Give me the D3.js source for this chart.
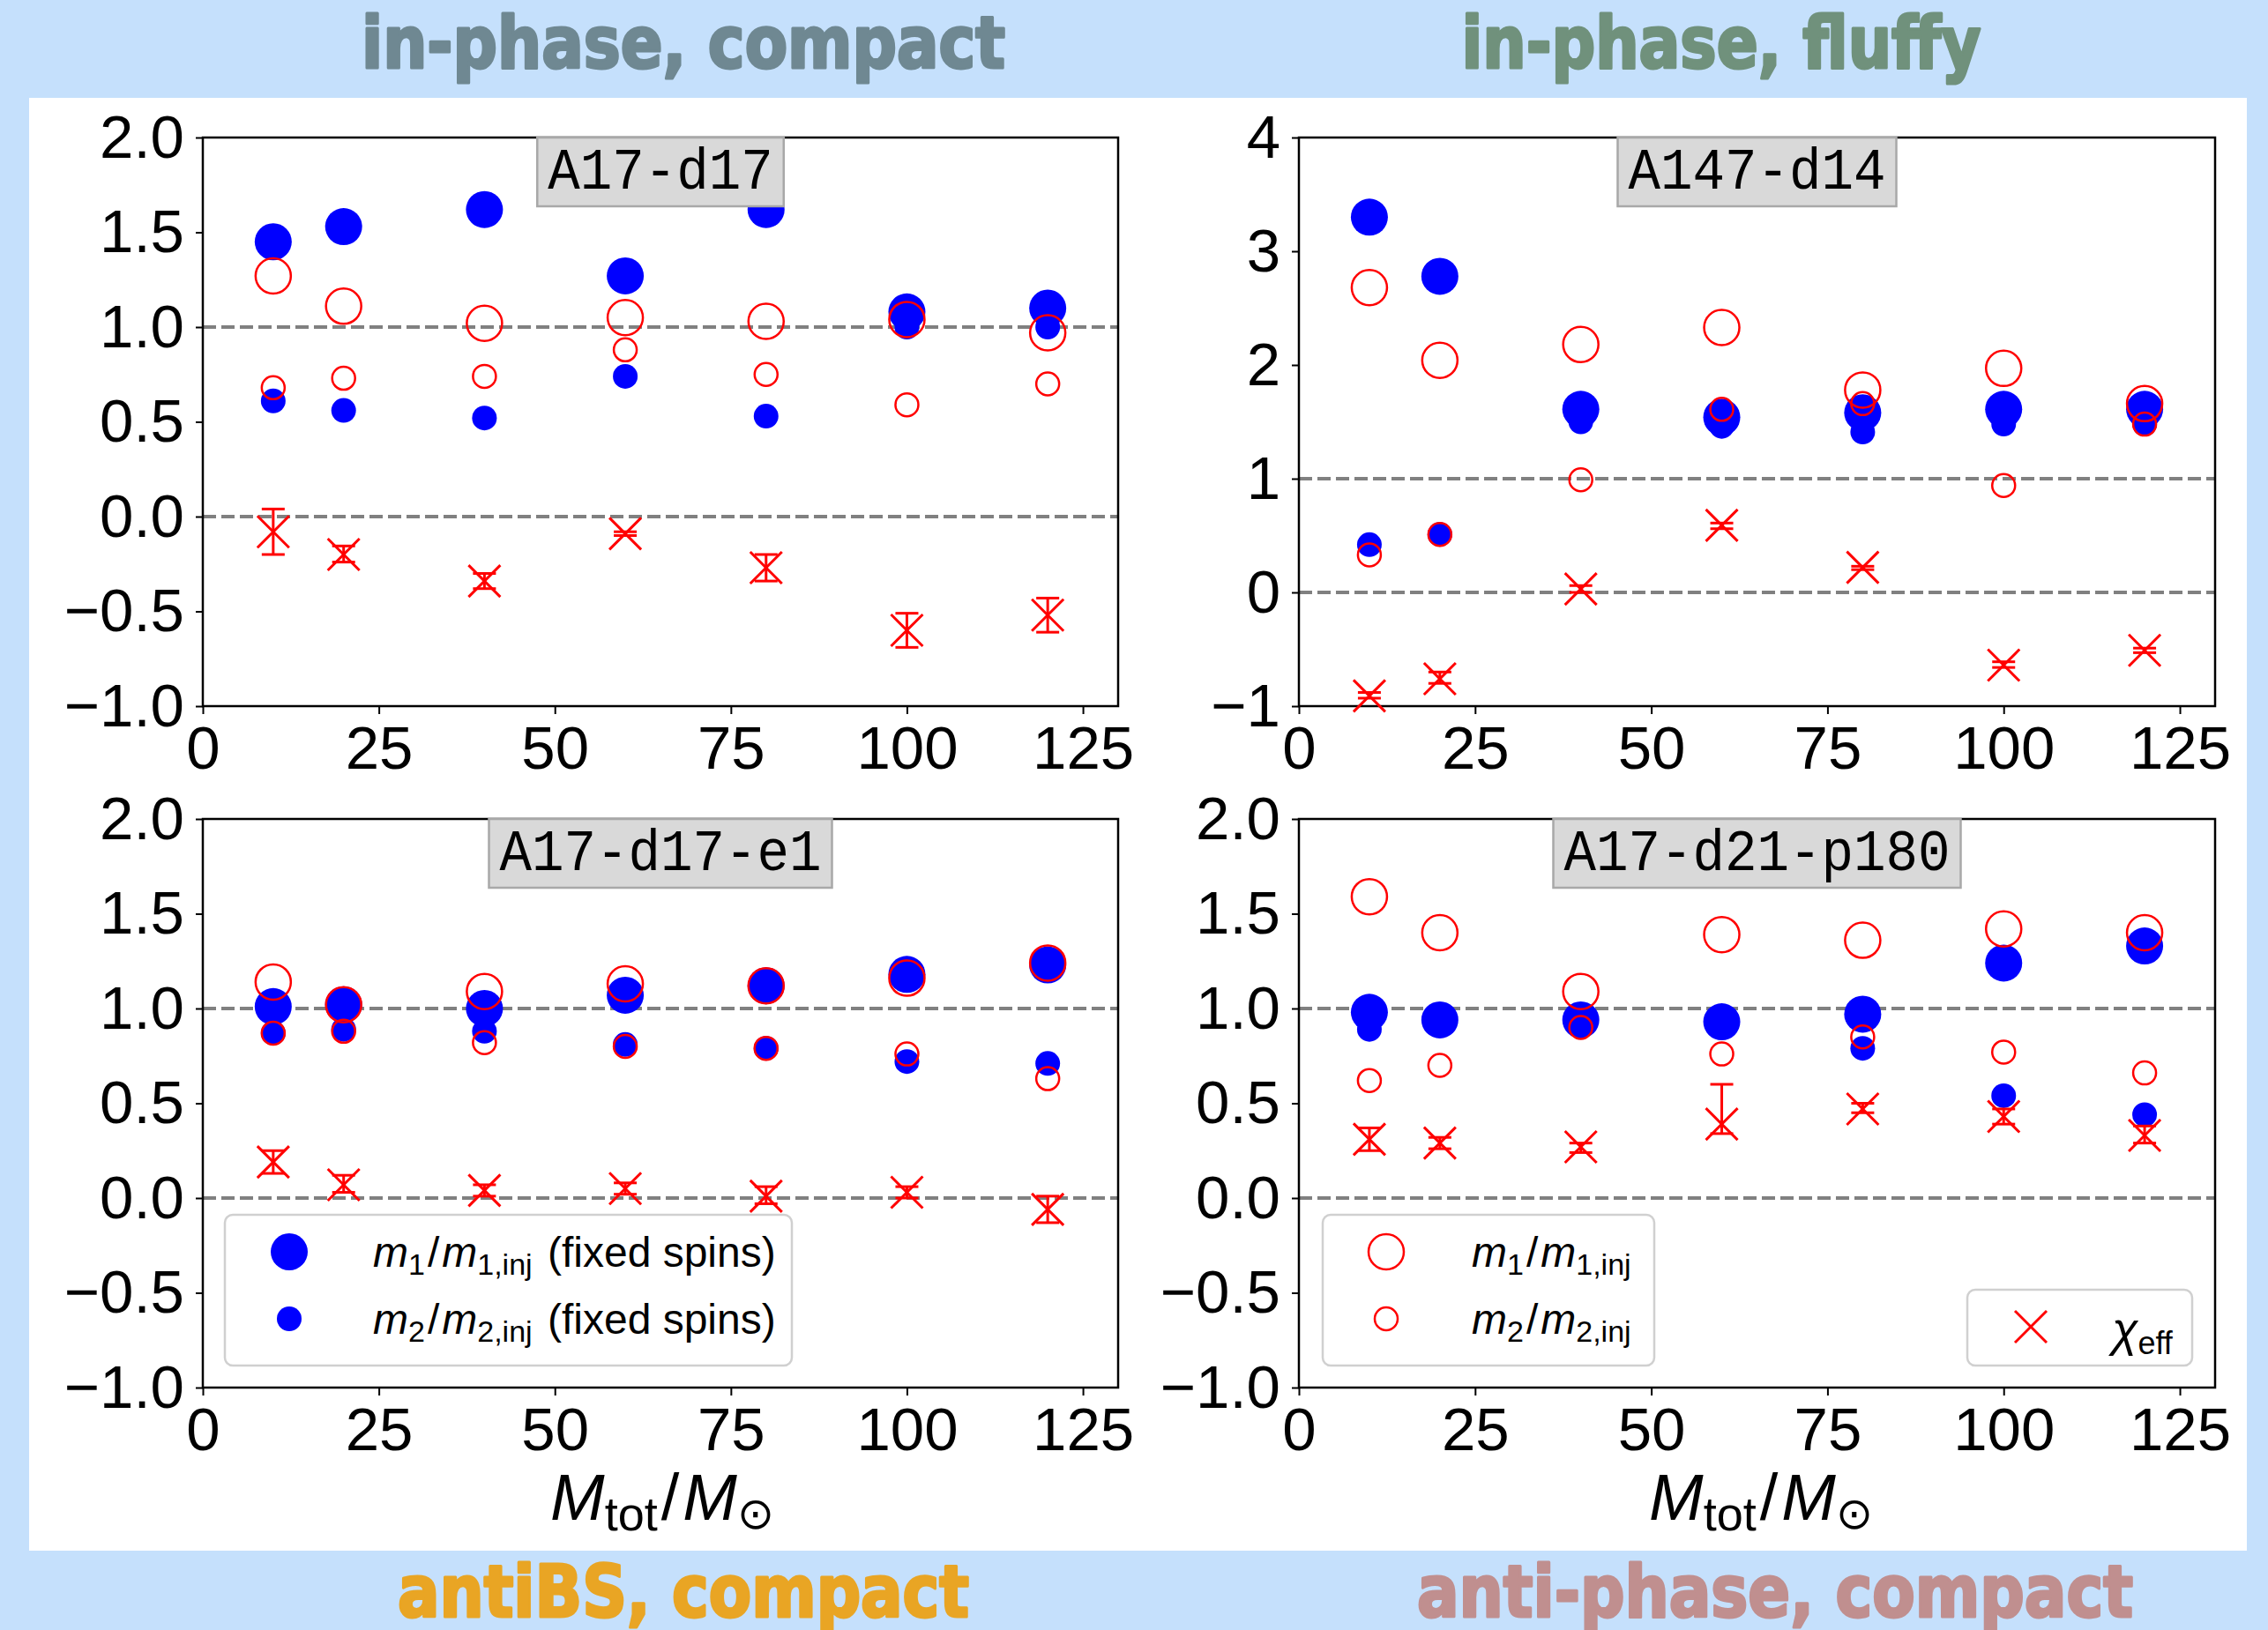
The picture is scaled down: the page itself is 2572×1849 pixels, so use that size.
<!DOCTYPE html>
<html><head><meta charset="utf-8">
<script src="https://cdn.jsdelivr.net/npm/d3@7"></script>
<style>html,body{margin:0;padding:0;background:#c5e0fc;} svg{display:block}</style>
</head><body><svg id="c" width="2572" height="1849"></svg>
<script>
// ---------------- data ----------------
const masses = [10, 20, 40, 60, 80, 100, 120];
const xTicks = [0, 25, 50, 75, 100, 125];
const yTicksHalf = [-1, -0.5, 0, 0.5, 1, 1.5, 2];
const yTicksInt = [-1, 0, 1, 2, 3, 4];
const cornerTitles = ["in-phase, compact", "in-phase, fluffy", "antiBS, compact", "anti-phase, compact"];
const panelNames = ["A17-d17", "A147-d14", "A17-d17-e1", "A17-d21-p180"];

// A17-d17
const a_m1Fixed = [1.45, 1.53, 1.62, 1.27, 1.62, 1.08, 1.10];
const a_m2Fixed = [0.61, 0.56, 0.52, 0.74, 0.53, 1.00, 1.00];
const a_m1 = [1.27, 1.11, 1.02, 1.05, 1.03, 1.04, 0.97];
const a_m2 = [0.68, 0.73, 0.74, 0.88, 0.75, 0.59, 0.70];
const a_chi = [-0.08, -0.20, -0.34, -0.09, -0.27, -0.60, -0.52];
const a_chiLo = [-0.20, -0.24, -0.38, -0.10, -0.34, -0.69, -0.61];
const a_chiHi = [0.04, -0.155, -0.30, -0.08, -0.20, -0.51, -0.43];

// A147-d14
const b_m1Fixed = [3.30, 2.78, 1.61, 1.54, 1.58, 1.61, 1.61];
const b_m2Fixed = [0.42, 0.51, 1.50, 1.46, 1.41, 1.48, 1.48];
const b_m1 = [2.68, 2.04, 2.18, 2.33, 1.78, 1.97, 1.66];
const b_m2 = [0.33, 0.51, 0.99, 1.61, 1.66, 0.94, 1.48];
const b_chi = [-0.91, -0.76, 0.03, 0.59, 0.22, -0.64, -0.51];
const b_chiLo = [-0.93, -0.80, 0.00, 0.56, 0.20, -0.66, -0.53];
const b_chiHi = [-0.88, -0.70, 0.06, 0.61, 0.23, -0.61, -0.49];

// A17-d17-e1
const c_m1Fixed = [1.01, 1.02, 1.00, 1.07, 1.12, 1.18, 1.23];
const c_m2Fixed = [0.87, 0.89, 0.88, 0.81, 0.79, 0.72, 0.71];
const c_m1 = [1.14, 1.02, 1.09, 1.13, 1.12, 1.16, 1.24];
const c_m2 = [0.87, 0.88, 0.82, 0.80, 0.79, 0.76, 0.63];
const c_chi = [0.19, 0.07, 0.04, 0.05, 0.01, 0.03, -0.06];
const c_chiLo = [0.13, 0.03, 0.01, 0.02, -0.03, 0.00, -0.13];
const c_chiHi = [0.25, 0.12, 0.07, 0.08, 0.06, 0.06, 0.01];

// A17-d21-p180
const d_m1Fixed = [0.98, 0.94, 0.94, 0.93, 0.97, 1.24, 1.33];
const d_m2Fixed = [0.89, 0.93, 0.91, 0.92, 0.79, 0.54, 0.44];
const d_m1 = [1.59, 1.40, 1.09, 1.39, 1.36, 1.42, 1.40];
const d_m2 = [0.62, 0.70, 0.90, 0.76, 0.85, 0.77, 0.66];
const d_chi = [0.31, 0.29, 0.27, 0.39, 0.47, 0.43, 0.33];
const d_chiLo = [0.25, 0.26, 0.24, 0.34, 0.45, 0.39, 0.29];
const d_chiHi = [0.37, 0.32, 0.29, 0.60, 0.50, 0.47, 0.38];

// ---------------- layout ----------------
const svg = d3.select('#c');
const BLUE = '#0000ff', RED = '#ff0000';
const TICKFONT = '"Liberation Sans", Arial, sans-serif';

svg.append('rect').attr('x', 0).attr('y', 0).attr('width', 2572).attr('height', 1849).attr('fill', '#c5e0fc');
svg.append('rect').attr('x', 33).attr('y', 111).attr('width', 2515).attr('height', 1648).attr('fill', '#ffffff');

const titleSpecs = [
  {t: cornerTitles[0], cx: 775, y: 77, w: 730, color: '#6f8892'},
  {t: cornerTitles[1], cx: 1952, y: 77, w: 589, color: '#70917c'},
  {t: cornerTitles[2], cx: 775, y: 1834, w: 648, color: '#e9a524'},
  {t: cornerTitles[3], cx: 2013, y: 1834, w: 812, color: '#c08f8f'}
];
svg.selectAll('text.ctitle').data(titleSpecs).join('text')
  .attr('class', 'ctitle')
  .attr('x', d => d.cx).attr('y', d => d.y)
  .attr('text-anchor', 'middle')
  .attr('textLength', d => d.w).attr('lengthAdjust', 'spacingAndGlyphs')
  .style('font-family', '"Liberation Sans Narrow", "DejaVu Sans Condensed", "Liberation Sans", sans-serif')
  .style('font-weight', 'bold').style('font-size', '82px')
  .attr('fill', d => d.color).attr('stroke', d => d.color).attr('stroke-width', 3)
  .attr('stroke-linejoin', 'round')
  .text(d => d.t);

function panel(p) {
  const x = d3.scaleLinear().domain([0, 130]).range([p.left, p.right]);
  const y = d3.scaleLinear().domain(p.yDomain).range([p.bottom, p.top]);
  const g = svg.append('g');

  // reference dashed lines
  g.selectAll('line.ref').data([0, 1]).join('line')
    .attr('x1', x(0)).attr('x2', x(130))
    .attr('y1', d => y(d)).attr('y2', d => y(d))
    .attr('stroke', '#808080').attr('stroke-width', 4).attr('stroke-dasharray', '15,6');

  // axes
  const xa = g.append('g').attr('transform', `translate(0,${p.bottom})`)
    .call(d3.axisBottom(x).tickValues(xTicks).tickSize(9).tickPadding(13).tickSizeOuter(0).tickFormat(d3.format('d')));
  const ya = g.append('g').attr('transform', `translate(${p.left},0)`)
    .call(d3.axisLeft(y).tickValues(p.yTicks).tickSize(8).tickPadding(13).tickSizeOuter(0).tickFormat(d3.format(p.fmt)));
  [xa, ya].forEach(a => {
    a.select('.domain').remove();
    a.selectAll('.tick line').attr('stroke', '#000').attr('stroke-width', 2);
    a.selectAll('.tick text').attr('fill', '#000')
      .style('font-family', TICKFONT).style('font-size', '69px');
  });

  // frame
  g.append('rect').attr('x', p.left).attr('y', p.top)
    .attr('width', p.right - p.left).attr('height', p.bottom - p.top)
    .attr('fill', 'none').attr('stroke', '#000').attr('stroke-width', 2.5);

  const pts = (arr) => masses.map((m, i) => ({m, v: arr[i]}));
  g.selectAll('circle.bb').data(pts(p.m1Fixed)).join('circle')
    .attr('cx', d => x(d.m)).attr('cy', d => y(d.v)).attr('r', 21).attr('fill', BLUE);
  g.selectAll('circle.bs').data(pts(p.m2Fixed)).join('circle')
    .attr('cx', d => x(d.m)).attr('cy', d => y(d.v)).attr('r', 14).attr('fill', BLUE);
  g.selectAll('circle.rb').data(pts(p.m1)).join('circle')
    .attr('cx', d => x(d.m)).attr('cy', d => y(d.v)).attr('r', 20)
    .attr('fill', 'none').attr('stroke', RED).attr('stroke-width', 2.5);
  g.selectAll('circle.rs').data(pts(p.m2)).join('circle')
    .attr('cx', d => x(d.m)).attr('cy', d => y(d.v)).attr('r', 13)
    .attr('fill', 'none').attr('stroke', RED).attr('stroke-width', 2.5);

  const chi = masses.map((m, i) => ({m, v: p.chi[i], lo: p.chiLo[i], hi: p.chiHi[i]}));
  const cg = g.selectAll('g.chi').data(chi).join('g')
    .attr('stroke', RED).attr('stroke-width', 3).attr('fill', 'none');
  cg.append('line').attr('x1', d => x(d.m)).attr('x2', d => x(d.m))
    .attr('y1', d => y(d.lo)).attr('y2', d => y(d.hi));
  cg.append('line').attr('x1', d => x(d.m) - 13).attr('x2', d => x(d.m) + 13)
    .attr('y1', d => y(d.lo)).attr('y2', d => y(d.lo));
  cg.append('line').attr('x1', d => x(d.m) - 13).attr('x2', d => x(d.m) + 13)
    .attr('y1', d => y(d.hi)).attr('y2', d => y(d.hi));
  cg.append('line').attr('x1', d => x(d.m) - 18).attr('x2', d => x(d.m) + 18)
    .attr('y1', d => y(d.v) - 18).attr('y2', d => y(d.v) + 18);
  cg.append('line').attr('x1', d => x(d.m) - 18).attr('x2', d => x(d.m) + 18)
    .attr('y1', d => y(d.v) + 18).attr('y2', d => y(d.v) - 18);

  // name box
  const cx = (p.left + p.right) / 2;
  const bw = p.name.length * 36.5 + 24;
  g.append('rect').attr('x', cx - bw / 2).attr('y', p.top).attr('width', bw).attr('height', 78)
    .attr('fill', '#d9d9d9').attr('stroke', '#a8a8a8').attr('stroke-width', 2.5);
  g.append('text').attr('x', cx).attr('y', p.top + 58).attr('text-anchor', 'middle')
    .attr('textLength', p.name.length * 36.5).attr('lengthAdjust', 'spacingAndGlyphs')
    .style('font-family', '"Liberation Mono", "DejaVu Sans Mono", monospace').style('font-size', '66px')
    .attr('fill', '#000').text(p.name);

  return {x, y, g};
}

const P1 = panel({left: 230, right: 1268, top: 156, bottom: 801, yDomain: [-1, 2], yTicks: yTicksHalf, fmt: '.1f',
  name: panelNames[0], m1Fixed: a_m1Fixed, m2Fixed: a_m2Fixed, m1: a_m1, m2: a_m2, chi: a_chi, chiLo: a_chiLo, chiHi: a_chiHi});
const P2 = panel({left: 1473, right: 2512, top: 156, bottom: 801, yDomain: [-1, 4], yTicks: yTicksInt, fmt: 'd',
  name: panelNames[1], m1Fixed: b_m1Fixed, m2Fixed: b_m2Fixed, m1: b_m1, m2: b_m2, chi: b_chi, chiLo: b_chiLo, chiHi: b_chiHi});
const P3 = panel({left: 230, right: 1268, top: 929, bottom: 1574, yDomain: [-1, 2], yTicks: yTicksHalf, fmt: '.1f',
  name: panelNames[2], m1Fixed: c_m1Fixed, m2Fixed: c_m2Fixed, m1: c_m1, m2: c_m2, chi: c_chi, chiLo: c_chiLo, chiHi: c_chiHi});
const P4 = panel({left: 1473, right: 2512, top: 929, bottom: 1574, yDomain: [-1, 2], yTicks: yTicksHalf, fmt: '.1f',
  name: panelNames[3], m1Fixed: d_m1Fixed, m2Fixed: d_m2Fixed, m1: d_m1, m2: d_m2, chi: d_chi, chiLo: d_chiLo, chiHi: d_chiHi});

// ---------------- legends ----------------
const LFONT = '"Liberation Sans", Arial, sans-serif';
function legendBox(x0, y0, w, h) {
  svg.append('rect').attr('x', x0).attr('y', y0).attr('width', w).attr('height', h)
    .attr('rx', 9).attr('ry', 9)
    .attr('fill', 'rgba(255,255,255,0.8)').attr('stroke', '#d0d0d0').attr('stroke-width', 2.5);
}
function massLabel(x0, yb, idx, extra) {
  const t = svg.append('text').attr('x', x0).attr('y', yb)
    .style('font-family', LFONT).style('font-size', '48px').attr('fill', '#000');
  t.append('tspan').style('font-style', 'italic').text('m');
  t.append('tspan').attr('dy', 9).style('font-size', '34px').text(idx);
  t.append('tspan').attr('dy', -9).attr('dx', 3).text('/');
  t.append('tspan').attr('dx', 3).style('font-style', 'italic').text('m');
  t.append('tspan').attr('dy', 9).style('font-size', '34px').text(idx + ',inj');
  if (extra) t.append('tspan').attr('dy', -9).attr('dx', 4).text('\u00a0' + extra);
}
// panel 3 legend
legendBox(255, 1378, 643, 171);
svg.append('circle').attr('cx', 328).attr('cy', 1420).attr('r', 21).attr('fill', BLUE);
svg.append('circle').attr('cx', 328).attr('cy', 1496).attr('r', 14).attr('fill', BLUE);
massLabel(423, 1437, '1', '(fixed spins)');
massLabel(423, 1513, '2', '(fixed spins)');
// panel 4 legends
legendBox(1500, 1378, 376, 171);
svg.append('circle').attr('cx', 1572).attr('cy', 1420).attr('r', 20).attr('fill', 'none').attr('stroke', RED).attr('stroke-width', 2.5);
svg.append('circle').attr('cx', 1572).attr('cy', 1496).attr('r', 13).attr('fill', 'none').attr('stroke', RED).attr('stroke-width', 2.5);
massLabel(1669, 1437, '1');
massLabel(1669, 1513, '2');
legendBox(2231, 1463, 255, 86);
svg.append('g').attr('stroke', RED).attr('stroke-width', 3)
  .selectAll('line').data([[-1, 1], [1, -1]]).join('line')
  .attr('x1', d => 2303 - 18).attr('x2', 2303 + 18)
  .attr('y1', d => 1505 + 18 * d[0]).attr('y2', d => 1505 + 18 * d[1]);
const chiT = svg.append('text').attr('x', 2395).attr('y', 1527)
  .style('font-family', LFONT).style('font-size', '54px').attr('fill', '#000');
chiT.append('tspan').style('font-style', 'italic').text('\u03c7');
chiT.append('tspan').attr('dy', 9).style('font-size', '36px').text('eff');

// ---------------- x labels ----------------
function xLabel(cx) {
  const t = svg.append('text').attr('x', cx).attr('y', 1724).attr('text-anchor', 'middle')
    .style('font-family', LFONT).style('font-size', '74px').attr('fill', '#000');
  t.append('tspan').style('font-style', 'italic').text('M');
  t.append('tspan').attr('dy', 12).style('font-size', '54px').text('tot');
  t.append('tspan').attr('dy', -12).attr('dx', 4).text('/');
  t.append('tspan').attr('dx', 4).style('font-style', 'italic').text('M');
  t.append('tspan').attr('dy', 10).style('font-size', '50px').style('font-family', '"DejaVu Sans", sans-serif').text('\u2299');
}
xLabel(751);
xLabel(1997);
</script></body></html>
